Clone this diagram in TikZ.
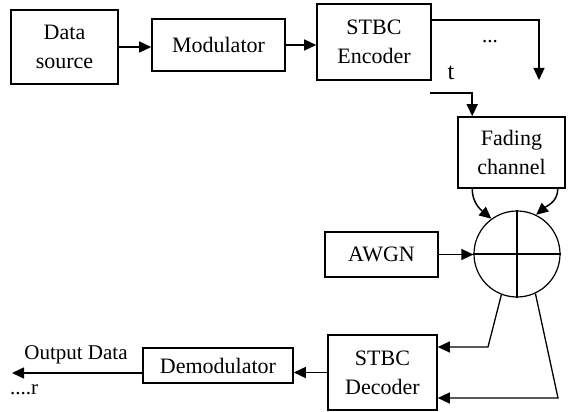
\documentclass[tikz,border=0pt]{standalone}
\usepackage{fontspec}
\setmainfont{Liberation Serif}
\usetikzlibrary{arrows.meta}
\begin{document}
\begin{tikzpicture}[x=1pt,y=-1pt,
  blk/.style={draw,line width=1.6pt,inner sep=0pt,align=center,
    font=\fontsize{22}{29}\selectfont},
  arr/.style={line width=1.5pt,-{Triangle[length=12pt,width=11pt]}},
  lbl/.style={inner sep=0pt,font=\fontsize{21}{22}\selectfont}]
\useasboundingbox (0,0) rectangle (568,412);
\node[blk,minimum width=107pt,minimum height=74pt] (src) at (64.5,47) {Data\\source};
\node[blk,minimum width=133pt,minimum height=52pt] (mod) at (218.5,45) {Modulator};
\node[blk,minimum width=114pt,minimum height=76pt] (enc) at (374,42) {STBC\\Encoder};
\node[blk,minimum width=107pt,minimum height=71pt] (fad) at (511.5,152.5) {Fading\\channel};
\node[draw,circle,line width=1.2pt,minimum size=86pt,inner sep=0pt] (sum) at (517,254) {};
\node[blk,minimum width=113pt,minimum height=45pt] (awgn) at (381.5,254.5) {AWGN};
\node[blk,minimum width=109pt,minimum height=75pt] (dec) at (382.5,372.5) {STBC\\Decoder};
\node[blk,minimum width=150pt,minimum height=35pt] (dem) at (218,365.5) {Demodulator};
\draw[line width=1.4pt] (sum.north) -- (sum.south) (sum.west) -- (sum.east);
\coordinate (encdown) at (539,80);
\coordinate (tin) at (430,93);
\coordinate (bend1) at (488,347);
\coordinate (bend2) at (558,398);
\coordinate (outend) at (12,373);
\draw[arr] (src.east) -- (src.east -| mod.west);
\draw[arr] (mod.east) -- (mod.east -| enc.west);
\draw[arr,line width=1.3pt] ([yshift=22pt]enc.east) -| (encdown);
\draw[arr] (tin) -| ([xshift=15pt]fad.north west);
\draw[arr] ([xshift=15pt]fad.south west) to[out=-90,in=140] (sum.126);
\draw[arr] ([xshift=-8pt]fad.south east) to[out=-90,in=40] (sum.64);
\draw[arr] (awgn.east) -- (awgn.east -| sum.west);
\draw[arr,line width=1.3pt] (sum.249) -- (bend1) -- ([yshift=25.5pt]dec.east);
\draw[arr,line width=1.3pt] (sum.295) -- (bend2) -- ([yshift=-25.5pt]dec.east);
\draw[arr] (dec.west) -- (dec.west -| dem.east);
\draw[arr] ([yshift=-7.5pt]dem.west) -- (outend);
\node[lbl] (od) at (76,355) {Output Data};
\node[lbl] (dr) at (24,390) {....r};
\node[lbl] (dots) at (490,42) {...};
\node[lbl,font=\fontsize{24}{24}\selectfont] (t) at (451,73) {t};
\end{tikzpicture}
\end{document}
